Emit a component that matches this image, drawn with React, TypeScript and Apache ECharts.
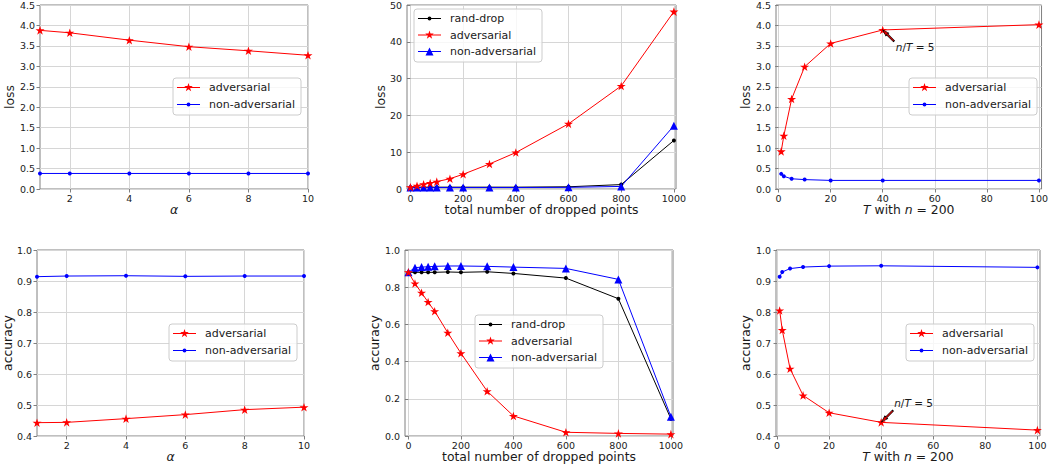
import React, { useEffect, useRef } from "react";
import * as echarts from "echarts";

// ---------- data ----------
const alphaValues = [1, 2, 4, 6, 8, 10];
const lossAlphaAdv = [3.88, 3.82, 3.64, 3.48, 3.38, 3.27];
const lossAlphaNon = [0.38, 0.38, 0.38, 0.38, 0.38, 0.38];

const droppedPoints = [0, 25, 50, 75, 100, 150, 200, 300, 400, 600, 800, 1000];
const lossDropRand = [0.5, 0.5, 0.5, 0.5, 0.5, 0.5, 0.5, 0.5, 0.5, 0.6, 1.2, 13.2];
const lossDropAdv = [0.5, 0.9, 1.3, 1.6, 2.0, 2.8, 4.0, 6.8, 9.9, 17.7, 28.0, 48.2];
const lossDropNon = [0.4, 0.4, 0.4, 0.4, 0.4, 0.4, 0.4, 0.4, 0.4, 0.45, 0.7, 17.2];

const tValues = [1, 2, 5, 10, 20, 40, 100];
const lossTAdv = [0.92, 1.3, 2.2, 2.99, 3.56, 3.89, 4.02];
const lossTNon = [0.37, 0.31, 0.25, 0.23, 0.21, 0.21, 0.21];

const accAlphaAdv = [0.443, 0.444, 0.456, 0.469, 0.485, 0.493];
const accAlphaNon = [0.914, 0.916, 0.917, 0.915, 0.916, 0.916];

const accDropRand = [0.88, 0.88, 0.88, 0.88, 0.88, 0.882, 0.88, 0.883, 0.874, 0.849, 0.738, 0.092];
const accDropAdv = [0.88, 0.82, 0.77, 0.72, 0.671, 0.555, 0.445, 0.241, 0.108, 0.02, 0.014, 0.01];
const accDropNon = [0.88, 0.905, 0.908, 0.91, 0.912, 0.914, 0.914, 0.912, 0.908, 0.901, 0.842, 0.104];

const accTAdv = [0.805, 0.742, 0.617, 0.531, 0.475, 0.444, 0.419];
const accTNon = [0.914, 0.929, 0.94, 0.945, 0.948, 0.949, 0.944];

const alphaTicks = [2, 4, 6, 8, 10];
const droppedTicks = [0, 200, 400, 600, 800, 1000];
const tTicks = [0, 20, 40, 60, 80, 100];

// annotation anchors (data coordinates)
const annotLossPoint = [40, 3.89];
const annotLossText = [45, 3.48];
const annotAccPoint = [40, 0.444];
const annotAccText = [45, 0.506];

// ---------- styles ----------
const FONT = "DejaVu Sans";
const TXT = "#1a1a1a";
const SPINE = "#808080";
const GRIDLINE = "#d6d6d6";
const STAR =
  "path://M100,0 L122.45,69.1 L195.1,69.1 L136.3,111.8 L158.8,180.9 L100,138.2 L41.2,180.9 L63.7,111.8 L4.9,69.1 L77.55,69.1 Z";
const ARROW = "path://M4,0 L8,6.5 L5.6,6.5 L5.6,16 L2.4,16 L2.4,6.5 L0,6.5 Z";

// legend icons: 23x10 box with line + marker
const ICON_BOX = "M0,0 L0.01,0 L0.01,0.01 Z M23,10 L22.99,10 L22.99,9.99 Z ";
const ICON_LINE = "M0,4.55 L23,4.55 L23,5.45 L0,5.45 Z ";
const ICON_STAR =
  "path://" + ICON_BOX + ICON_LINE +
  "M11.5,0.5 L12.51,3.61 L15.78,3.61 L13.13,5.53 L14.15,8.64 L11.5,6.72 L8.85,8.64 L9.87,5.53 L7.22,3.61 L10.49,3.61 Z";
const ICON_DOT =
  "path://" + ICON_BOX + ICON_LINE +
  "M13.5,5 L12.91,6.41 L11.5,7 L10.09,6.41 L9.5,5 L10.09,3.59 L11.5,3 L12.91,3.59 Z";
const ICON_TRI = "path://" + ICON_BOX + ICON_LINE + "M11.5,1 L15.5,9 L7.5,9 Z";

const zip = (xs: number[], ys: number[]) => xs.map((x, i) => [x, ys[i]]);

const grids = [
  { left: 40, top: 4, width: 268, height: 185 },
  { left: 407, top: 4, width: 269, height: 185 },
  { left: 776, top: 4, width: 268, height: 185 },
  { left: 37, top: 250, width: 267, height: 186 },
  { left: 405, top: 250, width: 268, height: 186 },
  { left: 776, top: 250, width: 264, height: 186 },
];

const richItalic = { i: { fontStyle: "italic", fontSize: 12.4, fontFamily: FONT, color: TXT } };

function xAxis(gridIndex: number, min: number, max: number, ticks: number[], name: string) {
  return {
    type: "value",
    gridIndex,
    min,
    max,
    name,
    nameLocation: "middle",
    nameGap: 14,
    nameTextStyle: { fontSize: 12.4, fontFamily: FONT, color: TXT, rich: richItalic },
    axisLine: { show: false },
    axisTick: { show: true, inside: false, length: 3.5, customValues: ticks, lineStyle: { color: SPINE } },
    axisLabel: {
      customValues: ticks,
      fontSize: 9.5,
      fontFamily: FONT,
      color: TXT,
      margin: 4,
      formatter: (v: number) => String(v),
    },
    splitLine: { show: true, lineStyle: { color: GRIDLINE, width: 1 } },
  };
}

function yAxis(gridIndex: number, min: number, max: number, interval: number, name: string, gap: number, dec: number) {
  return {
    type: "value",
    gridIndex,
    min,
    max,
    interval,
    name,
    nameLocation: "middle",
    nameGap: gap,
    nameTextStyle: { fontSize: 12.4, fontFamily: FONT, color: TXT },
    axisLine: { show: false },
    axisTick: { show: true, inside: false, length: 3.5, lineStyle: { color: SPINE } },
    axisLabel: {
      fontSize: 9.5,
      fontFamily: FONT,
      color: TXT,
      margin: 5,
      formatter: (v: number) => v.toFixed(dec),
    },
    splitLine: { show: true, lineStyle: { color: GRIDLINE, width: 1 } },
  };
}

function advSeries(idx: number, xs: number[], ys: number[], extra: any = {}) {
  return {
    type: "line",
    name: "adversarial#" + idx,
    xAxisIndex: idx,
    yAxisIndex: idx,
    data: zip(xs, ys),
    symbol: STAR,
    symbolSize: 9,
    symbolKeepAspect: true,
    showAllSymbol: true,
    lineStyle: { color: "#ff0000", width: 1 },
    itemStyle: { color: "#ff0000" },
    z: 3,
    ...extra,
  };
}

function nonSeries(idx: number, xs: number[], ys: number[], tri: boolean) {
  return {
    type: "line",
    name: "non-adversarial#" + idx,
    xAxisIndex: idx,
    yAxisIndex: idx,
    data: zip(xs, ys),
    symbol: tri ? "triangle" : "circle",
    symbolSize: tri ? 8 : 4,
    showAllSymbol: true,
    lineStyle: { color: "#0000ff", width: 1 },
    itemStyle: { color: "#0000ff" },
    z: 2,
  };
}

function randSeries(idx: number, xs: number[], ys: number[]) {
  return {
    type: "line",
    name: "rand-drop#" + idx,
    xAxisIndex: idx,
    yAxisIndex: idx,
    data: zip(xs, ys),
    symbol: "circle",
    symbolSize: 4,
    showAllSymbol: true,
    lineStyle: { color: "#000000", width: 1 },
    itemStyle: { color: "#000000" },
    z: 2,
  };
}

function annotation(point: number[], text: number[], rot: number, off: number[]) {
  return {
    silent: true,
    data: [
      {
        coord: point,
        symbol: ARROW,
        symbolSize: [8, 16],
        symbolKeepAspect: true,
        symbolRotate: rot,
        symbolOffset: off,
        itemStyle: { color: "#e00000", borderColor: "#000000", borderWidth: 0.8 },
        label: { show: false },
      },
      {
        coord: text,
        symbol: "circle",
        symbolSize: 0,
        itemStyle: { color: "rgba(0,0,0,0)" },
        label: {
          show: true,
          position: "right",
          distance: 0,
          formatter: "{i|n}/{i|T} = 5",
          fontSize: 10.5,
          fontFamily: FONT,
          color: TXT,
          rich: { i: { fontStyle: "italic", fontSize: 10.5, fontFamily: FONT, color: TXT } },
        },
      },
    ],
  };
}

const ICONS: Record<string, string> = {
  adversarial: ICON_STAR,
  "non-adversarial": ICON_DOT,
  "rand-drop": ICON_DOT,
};

function legend(idx: number, left: number, top: number, names: string[], gap: number, triNon = false) {
  return {
    show: true,
    orient: "vertical",
    left,
    top,
    data: names.map((n) => ({
      name: n + "#" + idx,
      icon: n === "non-adversarial" && triNon ? ICON_TRI : ICONS[n],
    })),
    formatter: (n: string) => n.split("#")[0],
    itemWidth: 23,
    itemHeight: 10,
    itemGap: gap,
    itemStyle: { borderWidth: 0 },
    padding: [4, 6, 5, 4],
    backgroundColor: "rgba(255,255,255,0.8)",
    borderColor: "#cccccc",
    borderWidth: 1,
    borderRadius: 3,
    selectedMode: false,
    textStyle: { fontSize: 11, fontFamily: FONT, color: TXT, padding: [0, 0, 0, 4] },
  };
}

export default function App() {
  const ref = useRef<HTMLDivElement>(null);
  useEffect(() => {
    if (!ref.current) return;
    const chart = echarts.init(ref.current, undefined, { renderer: "svg" });
    const gridBase = { show: true, borderColor: SPINE, borderWidth: 1, backgroundColor: "#ffffff", containLabel: false };
    chart.setOption({
      animation: false,
      backgroundColor: "#ffffff",
      grid: grids.map((g) => ({ ...gridBase, ...g })),
      xAxis: [
        xAxis(0, 1, 10, alphaTicks, "{i|α}"),
        xAxis(1, -13, 1008, droppedTicks, "total number of dropped points"),
        xAxis(2, -1, 101, tTicks, "{i|T} with {i|n} = 200"),
        xAxis(3, 1, 10, alphaTicks, "{i|α}"),
        xAxis(4, -13, 1008, droppedTicks, "total number of dropped points"),
        xAxis(5, -0.4, 101, tTicks, "{i|T} with {i|n} = 200"),
      ],
      yAxis: [
        yAxis(0, 0, 4.5, 0.5, "loss", 21, 1),
        yAxis(1, 0, 50, 10, "loss", 18, 0),
        yAxis(2, 0, 4.5, 0.5, "loss", 21, 1),
        yAxis(3, 0.4, 1.0, 0.1, "accuracy", 21, 1),
        yAxis(4, 0, 1.0, 0.2, "accuracy", 21, 1),
        yAxis(5, 0.4, 1.0, 0.1, "accuracy", 24, 1),
      ],
      legend: [
        legend(0, 173, 78, ["adversarial", "non-adversarial"], 6),
        legend(1, 414, 9, ["rand-drop", "adversarial", "non-adversarial"], 5.5, true),
        legend(2, 909, 78, ["adversarial", "non-adversarial"], 6),
        legend(3, 169, 324, ["adversarial", "non-adversarial"], 6),
        legend(4, 475, 315, ["rand-drop", "adversarial", "non-adversarial"], 5.5, true),
        legend(5, 906, 324, ["adversarial", "non-adversarial"], 6),
      ],
      series: [
        advSeries(0, alphaValues, lossAlphaAdv),
        nonSeries(0, alphaValues, lossAlphaNon, false),
        randSeries(1, droppedPoints, lossDropRand),
        advSeries(1, droppedPoints, lossDropAdv),
        nonSeries(1, droppedPoints, lossDropNon, true),
        advSeries(2, tValues, lossTAdv, { markPoint: annotation(annotLossPoint, annotLossText, 45, [5.5, 5.5]) }),
        nonSeries(2, tValues, lossTNon, false),
        advSeries(3, alphaValues, accAlphaAdv),
        nonSeries(3, alphaValues, accAlphaNon, false),
        randSeries(4, droppedPoints, accDropRand),
        advSeries(4, droppedPoints, accDropAdv),
        nonSeries(4, droppedPoints, accDropNon, true),
        advSeries(5, tValues, accTAdv, { markPoint: annotation(annotAccPoint, annotAccText, 135, [6, -6]) }),
        nonSeries(5, tValues, accTNon, false),
      ],
    });
    return () => chart.dispose();
  }, []);
  return (
    <div
      ref={ref}
      style={{ position: "absolute", left: 0, top: 0, width: 1051, height: 470 }}
    />
  );
}
